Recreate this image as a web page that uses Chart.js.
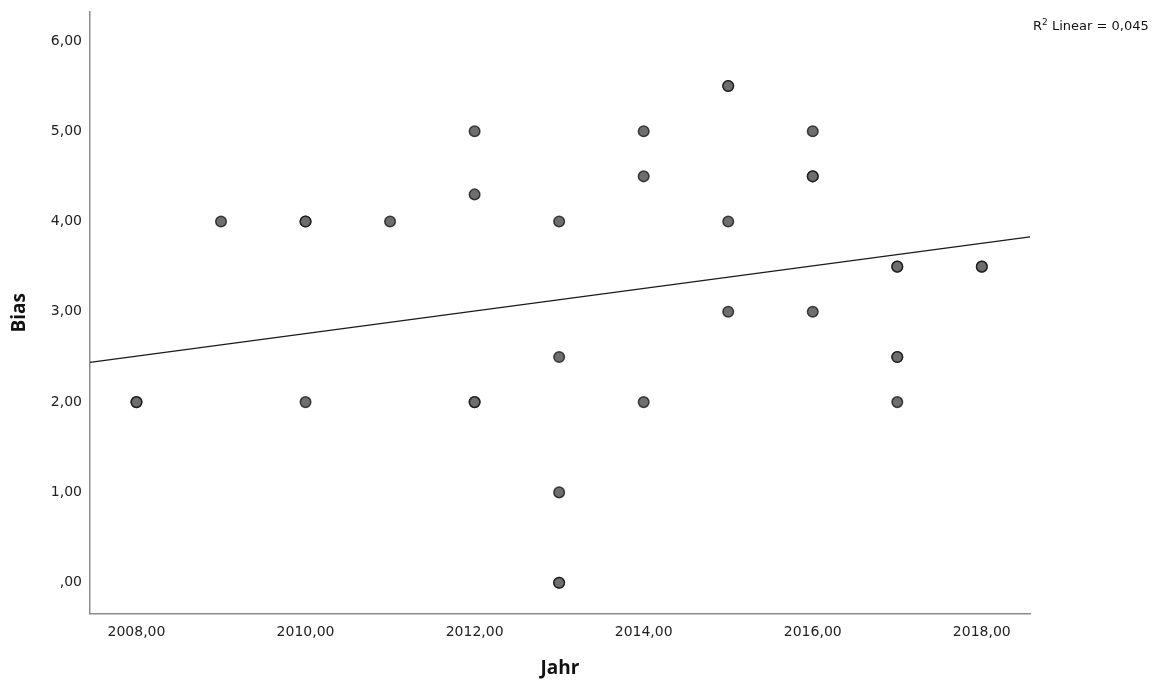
<!DOCTYPE html>
<html>
<head>
<meta charset="utf-8">
<script src="https://cdn.jsdelivr.net/npm/chart.js@4/dist/chart.umd.min.js"></script>
<style>
	body { margin: 0; background: #fff; }
	#wrap { position: relative; width: 1174px; height: 686px; }
	#r2 { position: absolute; left: 1033px; top: 17px; font: 13px "DejaVu Sans", sans-serif; color: #111; white-space: nowrap; }
	#r2 sup { font-size: 9px; }
</style>
</head>
<body>
<div id="wrap">
	<canvas id="myChart" width="1174" height="686"></canvas>
	<div id="r2">R<sup>2</sup> Linear = 0,045</div>
</div>
<script>
	// Jahr / Bias pairs (doubles are overlapping points)
	var jahr = [
		2008, 2008,
		2009,
		2010, 2010, 2010,
		2011,
		2012, 2012, 2012, 2012,
		2013, 2013, 2013, 2013, 2013,
		2014, 2014, 2014,
		2015, 2015, 2015, 2015,
		2016, 2016, 2016, 2016,
		2017, 2017, 2017, 2017, 2017,
		2018, 2018
	];
	var bias = [
		2, 2,
		4,
		4, 4, 2,
		4,
		5, 4.3, 2, 2,
		4, 2.5, 1, 0, 0,
		5, 4.5, 2,
		5.5, 5.5, 4, 3,
		5, 4.5, 4.5, 3,
		3.5, 3.5, 2.5, 2.5, 2,
		3.5, 3.5
	];

	// fit line end points
	var fitX = [2007.45, 2018.57];
	var fitY = [2.44, 3.83];

	var xTicks = [2008, 2010, 2012, 2014, 2016, 2018];
	var yTicks = [0, 1, 2, 3, 4, 5, 6];

	var points = [];
	for (i = 0; i < jahr.length; i++) {
		points.push({x: jahr[i], y: bias[i]});
	}
	var line = [];
	for (i = 0; i < fitX.length; i++) {
		line.push({x: fitX[i], y: fitY[i]});
	}

	function fmt(v) {
		var s = Number(v).toFixed(2).replace('.', ',');
		if (s == "0,00") s = ",00";
		return s;
	}

	var tickFont = {family: "DejaVu Sans", size: 14};
	var titleFont = {family: "Open Sans", size: 19, weight: "bold"};

	var ctx = document.getElementById("myChart");
	var chart = new Chart(ctx, {
		type: 'scatter',
		data: {
			datasets: [{
				data: points,
				pointRadius: 5.3,
				pointBackgroundColor: '#6e6e6e',
				pointBorderColor: 'rgba(15,15,15,0.75)',
				pointBorderWidth: 1.5,
				order: 1
			}, {
				type: 'line',
				data: line,
				borderColor: '#1a1a1a',
				borderWidth: 1.3,
				pointRadius: 0,
				fill: false,
				order: 2
			}]
		},
		options: {
			responsive: false,
			animation: false,
			layout: {padding: {left: 8, right: 144, top: 12, bottom: 6}},
			plugins: {legend: {display: false}, tooltip: {enabled: false}},
			scales: {
				x: {
					type: 'linear',
					min: 2007.45,
					max: 2018.57,
					afterBuildTicks: function(s) { s.ticks = xTicks.map(function(v) { return {value: v}; }); },
					grid: {drawOnChartArea: false, drawTicks: false},
					border: {color: '#8c8c8c', width: 1.5},
					ticks: {font: tickFont, color: '#222', padding: 11, callback: fmt, maxRotation: 0},
					title: {display: true, text: 'Jahr', font: titleFont, color: '#111', padding: {top: 5, bottom: 0}}
				},
				y: {
					type: 'linear',
					min: -0.34,
					max: 6.32,
					afterBuildTicks: function(s) { s.ticks = yTicks.map(function(v) { return {value: v}; }); },
					afterFit: function(s) { s.paddingTop = 0; s.paddingBottom = 0; },
					grid: {drawOnChartArea: false, drawTicks: false},
					border: {color: '#8c8c8c', width: 1.5},
					ticks: {font: tickFont, color: '#222', padding: 8, callback: fmt},
					title: {display: true, text: 'Bias', font: titleFont, color: '#111', padding: {top: 0, bottom: 12}}
				}
			}
		}
	});
</script>
</body>
</html>
